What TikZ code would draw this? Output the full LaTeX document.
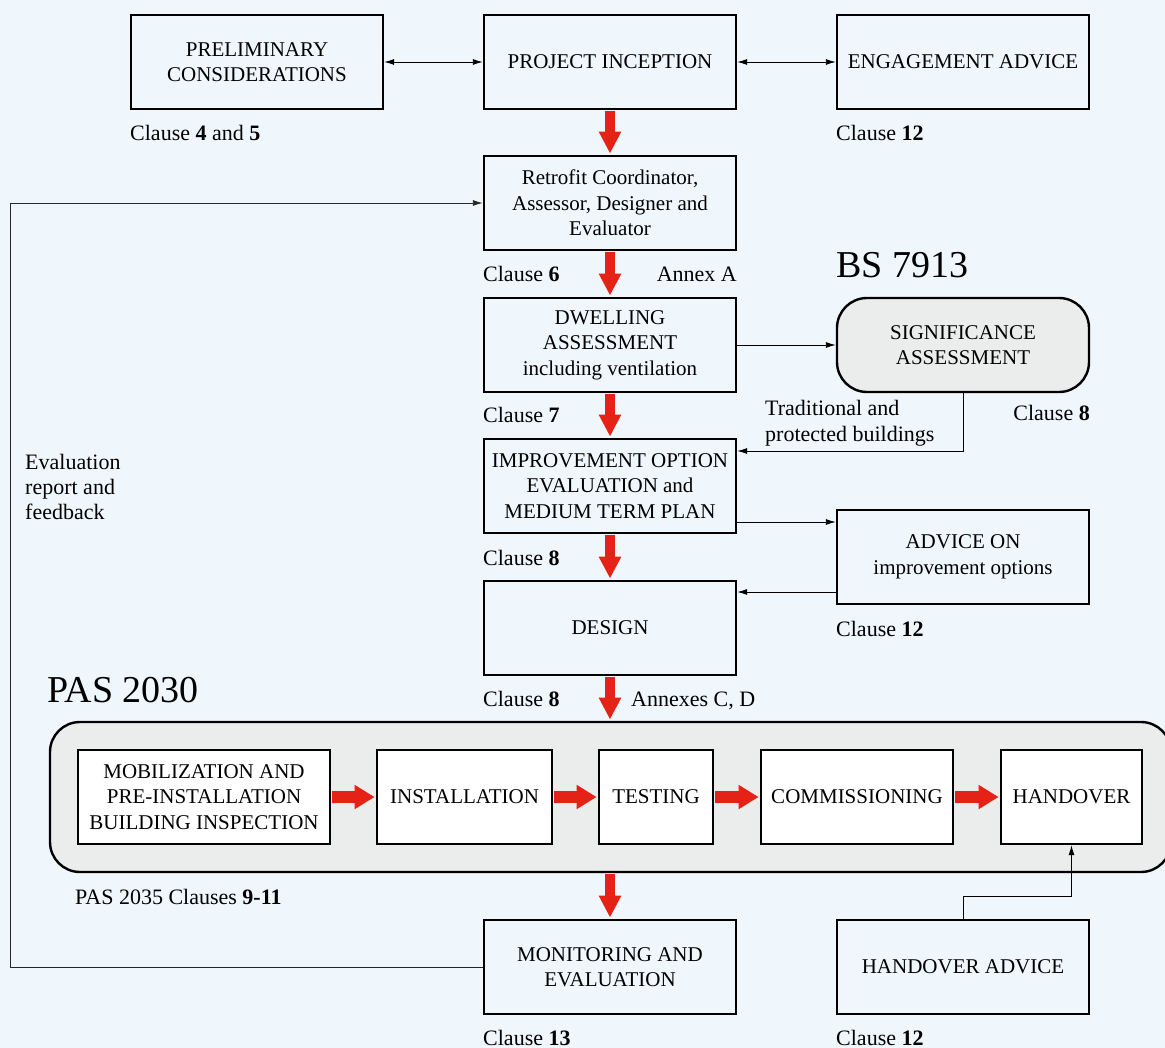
\documentclass[tikz,border=0pt]{standalone}
\usepackage{fontspec}
\setmainfont{Liberation Serif}
\usetikzlibrary{arrows.meta,calc}
\definecolor{bgc}{RGB}{239,247,253}
\definecolor{arrred}{RGB}{228,34,22}
\definecolor{panel}{RGB}{235,237,237}
\newcommand{\bxf}{\fontsize{21}{25.5}\selectfont}
\newcommand{\lbf}{\fontsize{22}{25.5}\selectfont}
\newcommand{\bigf}{\fontsize{38}{44}\selectfont}
\begin{document}
\begin{tikzpicture}[x=1pt,y=-1pt,
  box/.style={draw, line width=2.4pt, minimum height=94pt, align=center, inner sep=1pt, font=\bxf},
  wbox/.style={box, fill=white},
  lbl/.style={inner sep=0pt, anchor=base west, font=\lbf},
  lblr/.style={inner sep=0pt, anchor=base east, font=\lbf},
  thinarr/.style={line width=0.9pt, -{Latex[length=10pt,width=6pt]}},
  dblarr/.style={line width=0.9pt, {Latex[length=10pt,width=6pt]}-{Latex[length=10pt,width=6pt]}},
  redv/.style={draw=arrred, line width=10pt, -{Triangle[width=21pt,length=22pt]}, shorten <=1.2pt, shorten >=1.2pt},
  redh/.style={draw=arrred, line width=12pt, -{Triangle[width=23pt,length=20pt]}, shorten <=1.2pt, shorten >=1.2pt}
]
\useasboundingbox (0,0) rectangle (1165,1048);
\fill[bgc] (0,0) rectangle (1165,1048);
\clip (0,0) rectangle (1165,1048);

% top row
\node[box, minimum width=252pt] (prelim) at (257,62) {PRELIMINARY\\CONSIDERATIONS};
\node[box, minimum width=252pt] (incep) at (610,62) {PROJECT INCEPTION};
\node[box, minimum width=252pt] (engage) at (963,62) {ENGAGEMENT ADVICE};
\node[lbl] (l45) at (130,141) {Clause \textbf{4} and \textbf{5}};
\node[lbl] (l12a) at (836,141) {Clause \textbf{12}};

% central column
\node[box, minimum width=252pt] (retro) at (610,203) {Retrofit Coordinator,\\Assessor, Designer and\\Evaluator};
\node[lbl] (l6) at (483,282) {Clause \textbf{6}};
\node[lblr] (lannA) at (737,282) {Annex A};
\node[box, minimum width=252pt] (dwell) at (610,345) {DWELLING\\ASSESSMENT\\including ventilation};
\node[lbl] (l7) at (483,423) {Clause \textbf{7}};
\node[box, minimum width=252pt] (improv) at (610,486) {IMPROVEMENT OPTION\\EVALUATION and\\MEDIUM TERM PLAN};
\node[lbl] (l8a) at (483,565) {Clause \textbf{8}};
\node[box, minimum width=252pt] (design) at (610,628) {DESIGN};
\node[lbl] (l8b) at (483,706) {Clause \textbf{8}};
\node[lbl] (lannCD) at (631,706) {Annexes C, D};

% right column
\node[inner sep=0pt, anchor=base west, font=\bigf] (bs) at (836,278) {BS 7913};
\node[box, minimum width=252pt, fill=panel, rounded corners=30pt] (signif) at (963,345) {SIGNIFICANCE\\ASSESSMENT};
\node[lblr] (l8c) at (1090,421) {Clause \textbf{8}};
\node[lbl] (ltrad) at (765,416) {Traditional and};
\node[lbl] (lprot) at (765,442) {protected buildings};
\node[box, minimum width=252pt] (advice) at (963,557) {ADVICE ON\\improvement options};
\node[lbl] (l12b) at (836,636) {Clause \textbf{12}};

% PAS 2030 panel
\node[inner sep=0pt, anchor=base west, font=\bigf] (pastitle) at (47,702) {PAS 2030};
\node[draw, line width=2.4pt, fill=panel, rounded corners=30pt, minimum width=1121pt, minimum height=150pt] (pas) at (610.5,797) {};
\node[wbox, minimum width=252pt] (mob) at (204,797) {MOBILIZATION AND\\PRE-INSTALLATION\\BUILDING INSPECTION};
\node[wbox, minimum width=175pt] (inst) at (464.5,797) {INSTALLATION};
\node[wbox, minimum width=114pt] (test) at (656,797) {TESTING};
\node[wbox, minimum width=192pt] (comm) at (857,797) {COMMISSIONING};
\node[wbox, minimum width=141pt] (hand) at (1071.5,797) {HANDOVER};
\node[lbl] (l911) at (75,904) {PAS 2035 Clauses \textbf{9-11}};

% bottom row
\node[box, minimum width=252pt] (monitor) at (610,967) {MONITORING AND\\EVALUATION};
\node[lbl] (l13) at (483,1045) {Clause \textbf{13}};
\node[box, minimum width=252pt] (handadv) at (963,967) {HANDOVER ADVICE};
\node[lbl] (l12c) at (836,1045) {Clause \textbf{12}};

% feedback label
\node[lbl] (lev1) at (25,469) {Evaluation};
\node[lbl] (lev2) at (25,494) {report and};
\node[lbl] (lev3) at (25,519) {feedback};
\coordinate (fbx) at (10,0);

% thin connectors
\draw[dblarr] (prelim.east) -- (incep.west);
\draw[dblarr] (incep.east) -- (engage.west);
\draw[thinarr] (dwell.east) -- (signif.west);
\draw[thinarr] (signif.south) |- ([yshift=35pt]improv.east);
\draw[thinarr] ([yshift=-36pt]improv.east) -- ([yshift=-36pt]improv.east -| advice.west);
\draw[thinarr] ([yshift=-35pt]advice.west) -- ([yshift=-35pt]advice.west -| design.east);
\draw[thinarr] (handadv.north) -- ++(0,-22) -| (hand.south);
\draw[thinarr, draw=black!85] (monitor.west) -- (monitor.west -| fbx) -- (retro.west -| fbx) -- (retro.west);

% red flow arrows
\draw[redv] (incep.south) -- (retro.north);
\draw[redv] (retro.south) -- (dwell.north);
\draw[redv] (dwell.south) -- (improv.north);
\draw[redv] (improv.south) -- (design.north);
\draw[redv] (design.south) -- (design.south |- pas.north);
\draw[redv] (design.south |- pas.south) -- (monitor.north);
\draw[redh] (mob.east) -- (inst.west);
\draw[redh] (inst.east) -- (test.west);
\draw[redh] (test.east) -- (comm.west);
\draw[redh] (comm.east) -- (hand.west);
\end{tikzpicture}
\end{document}
